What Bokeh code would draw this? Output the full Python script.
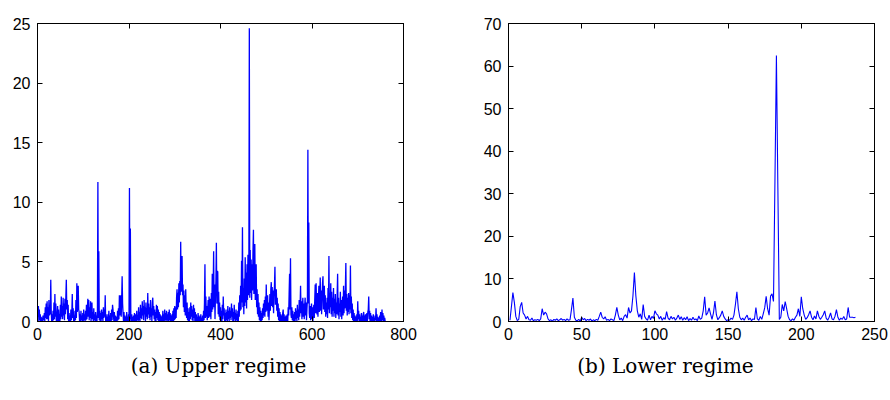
from bokeh.plotting import figure
from bokeh.layouts import column, row
from bokeh.models import Range1d, LinearAxis, FixedTicker, ColumnDataSource
from bokeh.core.properties import value
from bokeh.embed import file_html
from bokeh.resources import INLINE

# ---------------- data ----------------
upper_values = [
    0.4, 1.3, 0.0, 1.0, 0.1, 0.6, 0.0, 0.4, 0.0, 0.3, 0.0, 0.5, 0.1, 0.3, 0.7, 0.0, 1.2, 0.3, 1.5, 0.2,
    1.7, 0.2, 1.2, 0.0, 1.8, 0.5, 1.3, 0.6, 3.5, 0.8, 0.0, 0.6, 0.0, 0.9, 0.1, 1.6, 0.2, 2.3, 0.4, 1.5,
    0.1, 0.0, 0.5, 1.3, 0.0, 1.0, 0.0, 0.6, 0.0, 1.4, 0.2, 2.1, 0.4, 1.3, 0.2, 2.0, 0.5, 1.5, 0.1, 1.9,
    0.6, 2.1, 3.5, 1.0, 1.8, 0.2, 1.4, 0.0, 0.7, 0.0, 0.5, 0.0, 1.0, 0.1, 0.6, 2.3, 0.3, 1.1, 0.0, 0.5,
    0.0, 0.9, 0.1, 1.8, 0.3, 3.2, 0.8, 2.0, 3.0, 1.0, 0.8, 0.0, 0.6, 0.0, 0.9, 0.1, 0.5, 0.0, 0.7, 0.0,
    1.0, 0.1, 0.6, 0.0, 0.9, 0.1, 1.4, 0.2, 1.0, 1.9, 0.4, 1.8, 0.1, 1.2, 0.3, 1.7, 0.0, 0.9, 1.6, 0.2,
    0.8, 0.0, 1.1, 0.1, 0.6, 0.0, 0.8, 0.0, 0.5, 0.0, 0.9, 11.7, 0.3, 5.9, 0.1, 0.9, 0.0, 0.7, 0.0, 1.0,
    0.2, 0.8, 0.0, 1.2, 0.3, 1.0, 0.4, 2.2, 0.0, 0.6, 0.0, 0.4, 0.0, 0.6, 0.0, 0.9, 0.0, 0.5, 0.0, 0.7,
    0.0, 1.0, 0.1, 1.4, 1.0, 0.5, 0.0, 0.8, 0.0, 0.5, 0.0, 0.3, 0.4, 0.0, 0.9, 0.1, 1.1, 0.2, 2.2, 0.5,
    1.2, 2.2, 0.4, 1.9, 3.8, 1.5, 0.7, 0.0, 0.8, 0.0, 0.5, 0.0, 0.4, 0.0, 0.8, 0.0, 0.4, 0.0, 0.6, 0.0,
    11.2, 0.2, 7.8, 0.1, 0.0, 0.6, 0.0, 0.4, 0.0, 0.5, 0.0, 0.7, 0.0, 0.4, 0.6, 0.0, 0.9, 0.1, 0.5, 0.0,
    1.2, 0.1, 0.8, 0.0, 1.4, 0.3, 1.1, 0.2, 1.7, 0.5, 1.3, 0.1, 1.8, 0.6, 1.2, 0.0, 1.6, 0.4, 1.1, 0.2,
    2.4, 0.6, 1.5, 0.3, 1.2, 0.1, 1.8, 0.4, 1.1, 0.0, 1.6, 2.0, 0.5, 1.3, 0.2, 1.0, 0.0, 0.8, 0.0, 1.4,
    0.3, 1.3, 0.1, 1.0, 0.0, 0.8, 0.0, 0.6, 0.0, 0.5, 0.0, 0.4, 0.0, 0.9, 0.0, 0.6, 0.0, 1.0, 0.1, 0.7,
    0.0, 0.9, 0.1, 0.6, 0.0, 0.8, 0.0, 1.0, 0.1, 0.7, 0.0, 0.5, 0.0, 0.6, 0.0, 0.9, 0.0, 1.1, 0.1, 1.3,
    0.2, 1.2, 0.3, 2.0, 2.7, 1.0, 2.4, 1.2, 3.2, 1.6, 3.4, 2.2, 6.7, 2.5, 4.2, 5.5, 2.2, 3.1, 1.2, 2.6,
    0.8, 2.2, 0.5, 2.7, 0.9, 0.3, 1.6, 0.1, 1.1, 0.0, 0.8, 0.0, 1.2, 0.2, 1.6, 0.4, 1.3, 0.1, 1.0, 0.0,
    1.4, 0.3, 1.1, 0.0, 0.8, 0.0, 0.6, 0.0, 0.4, 0.0, 0.7, 0.0, 0.5, 0.0, 0.4, 0.0, 0.6, 0.0, 0.3, 0.0,
    0.5, 0.0, 0.9, 0.1, 1.6, 4.8, 0.3, 2.1, 0.4, 1.3, 0.1, 0.9, 1.8, 0.3, 2.1, 0.7, 0.4, 1.9, 0.2, 2.4,
    0.8, 4.0, 1.0, 2.8, 5.9, 1.2, 3.1, 0.2, 2.2, 3.4, 6.6, 1.5, 4.2, 4.2, 0.6, 2.5, 0.4, 1.6, 0.1, 1.2,
    0.0, 0.9, 0.0, 1.4, 0.2, 2.1, 0.5, 1.1, 0.0, 0.7, 0.0, 1.0, 0.1, 0.8, 0.0, 1.3, 0.2, 0.9, 0.0, 1.2,
    0.3, 0.9, 0.1, 1.5, 0.4, 1.1, 0.0, 0.8, 0.0, 1.4, 0.2, 0.7, 0.0, 1.0, 0.1, 0.6, 0.0, 0.9, 0.0, 1.6,
    0.4, 2.2, 0.9, 3.0, 1.0, 5.1, 1.6, 7.9, 1.2, 2.8, 0.6, 3.6, 1.3, 5.4, 1.6, 4.1, 1.1, 4.8, 1.8, 5.6,
    2.2, 4.4, 24.6, 2.0, 6.0, 2.4, 5.2, 1.8, 4.8, 2.6, 5.9, 7.7, 2.3, 5.1, 6.5, 1.8, 3.9, 4.8, 1.2, 2.7,
    0.6, 2.3, 0.4, 1.6, 0.1, 1.2, 0.0, 0.9, 0.0, 0.7, 0.1, 1.1, 0.3, 1.5, 0.5, 1.8, 0.4, 2.1, 0.8, 3.1,
    0.9, 2.0, 2.2, 0.4, 1.6, 0.1, 1.2, 2.3, 0.9, 2.7, 3.3, 1.3, 2.9, 1.2, 2.6, 0.7, 2.4, 3.0, 4.6, 1.4,
    2.5, 2.7, 0.9, 2.0, 0.4, 1.5, 0.1, 1.1, 0.0, 0.8, 0.0, 0.6, 0.0, 0.5, 0.0, 0.7, 1.0, 0.0, 0.6, 0.0,
    0.4, 0.0, 0.5, 0.0, 0.3, 0.6, 0.0, 1.2, 0.5, 2.3, 4.0, 1.0, 5.3, 0.6, 0.3, 1.2, 0.1, 0.9, 0.0, 0.6,
    0.0, 0.8, 0.0, 1.1, 0.2, 0.9, 0.0, 1.4, 0.3, 1.0, 0.1, 1.8, 0.4, 1.3, 3.0, 0.7, 1.7, 0.2, 1.2, 2.0,
    0.4, 1.5, 0.2, 1.3, 2.0, 0.5, 1.6, 0.1, 1.1, 1.8, 14.4, 1.5, 8.3, 0.7, 0.3, 1.3, 0.1, 1.0, 1.5, 0.2,
    1.2, 0.0, 0.9, 1.4, 0.3, 1.8, 3.1, 0.7, 3.2, 1.4, 0.6, 2.4, 0.4, 1.7, 3.0, 0.8, 2.2, 3.7, 0.9, 2.6,
    0.6, 2.0, 3.2, 3.8, 1.0, 2.4, 3.0, 0.8, 2.2, 0.4, 1.6, 0.6, 2.0, 0.3, 2.8, 1.0, 5.5, 0.7, 2.4, 1.2,
    3.2, 0.6, 2.5, 0.4, 2.0, 0.9, 2.8, 0.4, 1.9, 0.7, 2.3, 0.3, 1.6, 0.6, 2.2, 4.0, 0.5, 2.0, 0.2, 1.5,
    0.8, 2.5, 0.4, 1.8, 0.2, 1.4, 2.1, 0.5, 3.0, 0.7, 2.6, 1.1, 2.9, 4.9, 0.9, 2.3, 0.5, 2.0, 0.8, 2.4,
    0.6, 2.2, 1.0, 4.7, 0.7, 2.1, 0.3, 1.5, 0.1, 1.0, 0.0, 0.7, 0.0, 0.5, 0.0, 0.4, 0.0, 0.6, 0.0, 1.7,
    0.2, 0.9, 0.0, 0.6, 0.0, 0.4, 0.0, 0.7, 0.0, 0.5, 0.0, 0.6, 0.8, 0.0, 0.5, 0.0, 0.6, 0.0, 0.4, 0.7,
    0.0, 0.8, 1.0, 2.1, 0.2, 0.9, 0.0, 0.7, 0.0, 0.5, 0.0, 0.4, 0.0, 0.6, 0.0, 0.3, 0.0, 0.5, 0.1, 1.1,
    0.0, 0.6, 0.0, 0.4, 0.0, 0.3, 0.0, 0.5, 0.0, 0.8, 0.3, 0.0, 1.0, 0.1, 0.7, 0.0, 0.5, 0.0, 0.3, 0.0,
]

lower_values = [
    0.3, 3.5, 6.8, 4.5, 1.2, 0.2, 0.5, 3.5, 4.5, 2.0, 1.5, 0.6, 1.2, 0.4, 0.3, 0.8, 0.2, 0.4, 0.3, 0.5,
    0.2, 0.6, 3.0, 1.5, 2.2, 1.8, 0.6, 0.2, 0.4, 0.1, 0.5, 0.3, 0.6, 0.2, 0.4, 0.7, 0.3, 0.5, 0.2, 0.6,
    0.3, 0.4, 2.8, 5.5, 1.0, 0.3, 0.2, 0.5, 0.1, 1.0, 0.4, 0.7, 0.2, 0.5, 0.3, 0.6, 0.1, 0.4, 0.2, 0.5,
    0.3, 1.2, 2.2, 1.0, 0.6, 1.1, 0.3, 0.5, 0.2, 0.6, 0.4, 0.2, 1.5, 3.3, 1.5, 0.4, 0.8, 0.2, 1.2, 1.6,
    0.8, 3.3, 2.0, 2.5, 6.0, 11.5, 6.0, 2.5, 1.0, 1.8, 0.5, 4.0, 1.2, 0.6, 0.3, 1.5, 0.4, 1.2, 0.7, 2.5,
    1.8, 1.5, 0.6, 1.2, 0.3, 0.9, 0.5, 2.3, 0.8, 0.4, 1.2, 0.6, 1.0, 0.3, 0.8, 1.5, 0.5, 1.1, 0.3, 0.9,
    0.4, 1.1, 0.2, 0.7, 0.3, 1.0, 0.4, 0.6, 0.2, 1.3, 0.5, 0.8, 2.5, 5.8, 1.5, 2.0, 3.2, 1.8, 0.5, 2.0,
    4.8, 1.6, 0.4, 0.9, 1.5, 2.5, 1.2, 0.6, 0.2, 0.4, 0.3, 0.8, 0.5, 1.5, 4.0, 7.0, 3.0, 1.0, 0.4, 0.8,
    0.3, 1.0, 1.5, 0.4, 0.8, 0.2, 0.6, 0.5, 3.3, 0.6, 0.3, 1.2, 0.5, 1.8, 3.2, 5.9, 3.0, 1.5, 6.0, 6.5,
    4.7, 33.0, 62.5, 31.3, 0.5, 1.0, 4.0, 2.5, 4.7, 3.0, 1.2, 0.4, 0.2, 0.6, 0.3, 1.0, 1.5, 3.0, 1.2, 5.8,
    3.0, 1.5, 0.5, 0.9, 1.6, 2.5, 1.0, 0.4, 1.3, 0.6, 2.5, 1.2, 0.5, 1.0, 1.6, 2.5, 0.8, 0.3, 1.0, 2.0,
    0.6, 0.4, 1.2, 2.8, 1.0, 0.3, 0.8, 0.5, 1.2, 0.4, 0.6, 3.3, 1.0, 1.0, 1.0, 0.9, 1.0,
]

upper_xticks = [0, 200, 400, 600, 800]
upper_yticks = [0, 5, 10, 15, 20, 25]
lower_xticks = [0, 50, 100, 150, 200, 250]
lower_yticks = [0, 10, 20, 30, 40, 50, 60, 70]
captions = ["(a) Upper regime", "(b) Lower regime"]
caption_x = [218, 665]

TICK_FONT = "Liberation Sans"
TICK_SIZE = "16px"
LINE_COLOR = "#0000ff"


def style_axis(ax, ticks, show_labels, standoff):
    ax.ticker = FixedTicker(ticks=ticks)
    ax.axis_line_color = "black"
    ax.major_tick_line_color = "black"
    ax.major_tick_in = 5
    ax.major_tick_out = 0
    ax.minor_tick_line_color = None
    if show_labels:
        ax.major_label_text_font = TICK_FONT
        ax.major_label_text_font_size = TICK_SIZE
        ax.major_label_text_color = "black"
        ax.major_label_standoff = standoff
    else:
        ax.major_label_text_color = None
        ax.major_label_text_font_size = "6px"
        ax.major_label_standoff = 0


def make_panel(vals, xmax, ymax, xt, yt, left, right, top, bottom, lw):
    p = figure(width=445, height=347,
               x_range=Range1d(0, xmax), y_range=Range1d(0, ymax),
               output_backend="svg", toolbar_location=None,
               min_border_left=left, min_border_right=right,
               min_border_top=top, min_border_bottom=bottom)
    src = ColumnDataSource(dict(x=list(range(1, len(vals) + 1)), y=vals))
    p.line("x", "y", source=src, line_color=LINE_COLOR, line_width=lw)
    p.grid.visible = False
    p.outline_line_color = "black"
    p.background_fill_color = "white"
    p.border_fill_color = "white"
    style_axis(p.xaxis[0], xt, True, 6)
    style_axis(p.yaxis[0], yt, True, 7)
    top_ax = LinearAxis()
    style_axis(top_ax, xt, False, 0)
    p.add_layout(top_ax, "above")
    right_ax = LinearAxis()
    style_axis(right_ax, yt, False, 0)
    p.add_layout(right_ax, "right")
    return p


p1 = make_panel(upper_values, 800, 25, upper_xticks, upper_yticks, 37, 42, 19, 26, 1.3)
p2 = make_panel(lower_values, 250, 70, lower_xticks, lower_yticks, 63, 16, 23, 26, 1.1)

cap = figure(width=890, height=53, x_range=Range1d(0, 890), y_range=Range1d(0, 53),
             output_backend="svg", toolbar_location=None,
             min_border_left=0, min_border_right=0, min_border_top=0, min_border_bottom=0)
cap.axis.visible = False
cap.grid.visible = False
cap.outline_line_color = None
cap.text(x=caption_x, y=[35, 35], text=captions,
         text_font=value("DejaVu Serif"), text_font_size="20px",
         text_align="center", text_baseline="middle", text_color="black")

layout = column(row(p1, p2), cap)

with open("out.html", "w") as f:
    f.write(file_html(layout, INLINE))
